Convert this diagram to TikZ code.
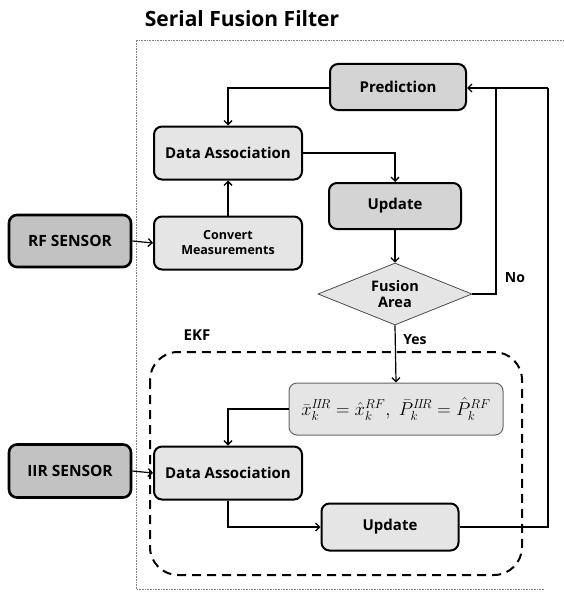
\documentclass[tikz,border=0pt]{standalone}
\usepackage{fontspec}
\setmainfont{Open Sans}
\usetikzlibrary{arrows.meta,shapes.geometric}
\definecolor{boxdark}{gray}{0.76}
\definecolor{boxmid}{gray}{0.83}
\definecolor{boxlight}{gray}{0.90}
\begin{document}
\begin{tikzpicture}[x=1pt,y=-1pt,
  lbl/.style={font=\bfseries\fontsize{14}{16}\selectfont},
  flowbox/.style={draw=black, line width=2pt, rounded corners=8pt, align=center,
    inner sep=2pt, font=\bfseries\fontsize{15}{17}\selectfont},
  sensorbox/.style={flowbox, fill=boxdark, line width=2.6pt,
    font=\bfseries\fontsize{15.5}{17}\selectfont},
  stagebox/.style={flowbox, fill=boxmid},
  softbox/.style={flowbox, fill=boxlight},
  decision/.style={diamond, draw=black!70, line width=0.8pt, fill=boxlight, aspect=2.5,
    inner sep=0pt, align=center, font=\bfseries\fontsize{14.5}{16}\selectfont},
  conn/.style={line width=1.2pt, -{Straight Barb[length=4pt,width=8pt,line width=1.3pt]}},
  plain/.style={line width=1.2pt}]
\useasboundingbox (0,0) rectangle (563,594);

% title and filter frame
\node[font=\bfseries\fontsize{21}{24}\selectfont] (title) at (242,19) {Serial Fusion Filter};
\draw[gray, line width=0.6pt, densely dotted] (570,40) -- (136,40) -- (136,589) -- (545,589);

% upper (RF) branch
\node[stagebox, minimum width=136pt, minimum height=46pt] (pred) at (398,87) {Prediction};
\node[softbox, minimum width=148pt, minimum height=53pt] (da1) at (228,153) {Data Association};
\node[stagebox, minimum width=132pt, minimum height=46pt] (upd1) at (395,206) {Update};
\node[sensorbox, minimum width=122pt, minimum height=52pt] (rf) at (70,241) {RF SENSOR};
\node[softbox, minimum width=148pt, minimum height=53pt,
  font=\bfseries\fontsize{12.5}{15}\selectfont] (conv) at (228,243) {Convert\\Measurements};
\node[decision, minimum width=154pt, minimum height=62pt] (fus) at (395,294) {Fusion\\Area};

% EKF region
\draw[line width=2pt, dash pattern=on 9pt off 6pt, rounded corners=28pt]
  (150,352) rectangle (522,575);
\node[lbl, font=\bfseries\fontsize{15}{17}\selectfont] (ekf) at (197,335) {EKF};
\node[softbox, line width=1pt, draw=black!60, minimum width=214pt, minimum height=52pt,
  font=\fontsize{17}{20}\selectfont] (init) at (396,409)
  {\scalebox{1.08}{$\bar{x}_k^{I\!I\!R}=\hat{x}_k^{RF},\;\bar{P}_k^{I\!I\!R}=\hat{P}_k^{RF}$}};
\node[sensorbox, minimum width=122pt, minimum height=53pt] (iir) at (70,471) {IIR SENSOR};
\node[softbox, minimum width=148pt, minimum height=53pt] (da2) at (228,473) {Data Association};
\node[softbox, minimum width=137pt, minimum height=47pt] (upd2) at (390,527) {Update};

% branch labels
\node[lbl] (no) at (515,278) {No};
\node[lbl] (yes) at (415,340) {Yes};

% helper points
\coordinate (nojoin) at (496,88);
\coordinate (back) at (548,88);

% connectors
\draw[conn] (pred.west |- 0,88) -| (da1.north);
\draw[conn] (da1.east) -| (upd1.north);
\draw[conn] (upd1.south) -- (fus.north);
\draw[conn] (rf.east) -- (conv.west);
\draw[conn] (conv.north) -- (da1.south);
\draw[plain] (fus.east) -| (nojoin);
\draw[conn] (fus.south) -- (init.north);
\draw[conn] (init.west) -| (da2.north);
\draw[conn] (iir.east) -- (da2.west);
\draw[conn] (da2.south) |- (upd2.west);
\draw[plain] (upd2.east) -| (back);
\draw[conn] (back) -- (pred.east |- back);
\end{tikzpicture}
\end{document}
